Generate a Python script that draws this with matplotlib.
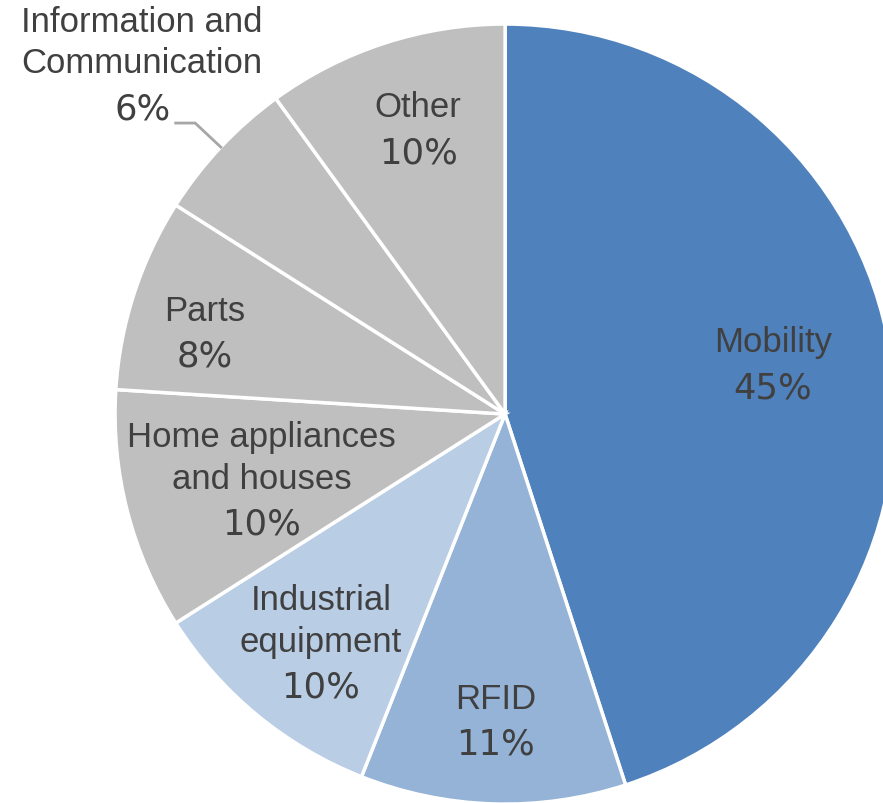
import numpy as np
import matplotlib.pyplot as plt

categories = ["Mobility", "RFID", "Industrial\nequipment", "Home appliances\nand houses",
              "Parts", "Information and\nCommunication", "Other"]
shares = [45, 11, 10, 10, 8, 6, 10]
colors = ["#4F81BD", "#95B3D7", "#B9CDE5", "#BFBFBF", "#BFBFBF", "#BFBFBF", "#BFBFBF"]
# label anchor: radius fraction and angle nudge (deg) from wedge middle
label_r = [0.70, 0.78, 0.79, 0.66, 0.80, 1.26, 0.77]
label_da = [2.0, 0.0, 2.9, 4.7, 2.4, 0.8, -1.2]

fig = plt.figure(figsize=(8.83, 8.04), dpi=100)
ax = fig.add_axes([0, 0, 1, 1])

wedges, _ = ax.pie(shares, colors=colors, startangle=90, counterclock=False,
                   radius=1.0, wedgeprops=dict(edgecolor="white", linewidth=2.5))

txt = "#404040"
for w, name, pct, r, da in zip(wedges, categories, shares, label_r, label_da):
    mid = (w.theta1 + w.theta2) / 2
    a = np.deg2rad(mid + da)
    x, y = r * np.cos(a), r * np.sin(a)
    ax.text(x, y + 0.027, name, ha="center", va="baseline", fontsize=25,
            color=txt, family="Liberation Sans", linespacing=1.32)
    ax.text(x, y - 0.091, f"{pct}%", ha="center", va="baseline", fontsize=25.5,
            color=txt, family="DejaVu Sans")
    if r > 1:
        # leader line for the outside label
        ex, ey = np.cos(np.deg2rad(mid)), np.sin(np.deg2rad(mid))
        bx, by = 1.09 * ex, 1.09 * ey
        ax.plot([bx - 0.05, bx, ex], [by, by, ey], color="#A6A6A6", lw=2,
                solid_joinstyle="miter")

ax.set_aspect("equal")
ax.set_xlim(-1.295, 0.969)
ax.set_ylim(-0.997, 1.064)
ax.axis("off")

fig.savefig("out.png", dpi=100)
